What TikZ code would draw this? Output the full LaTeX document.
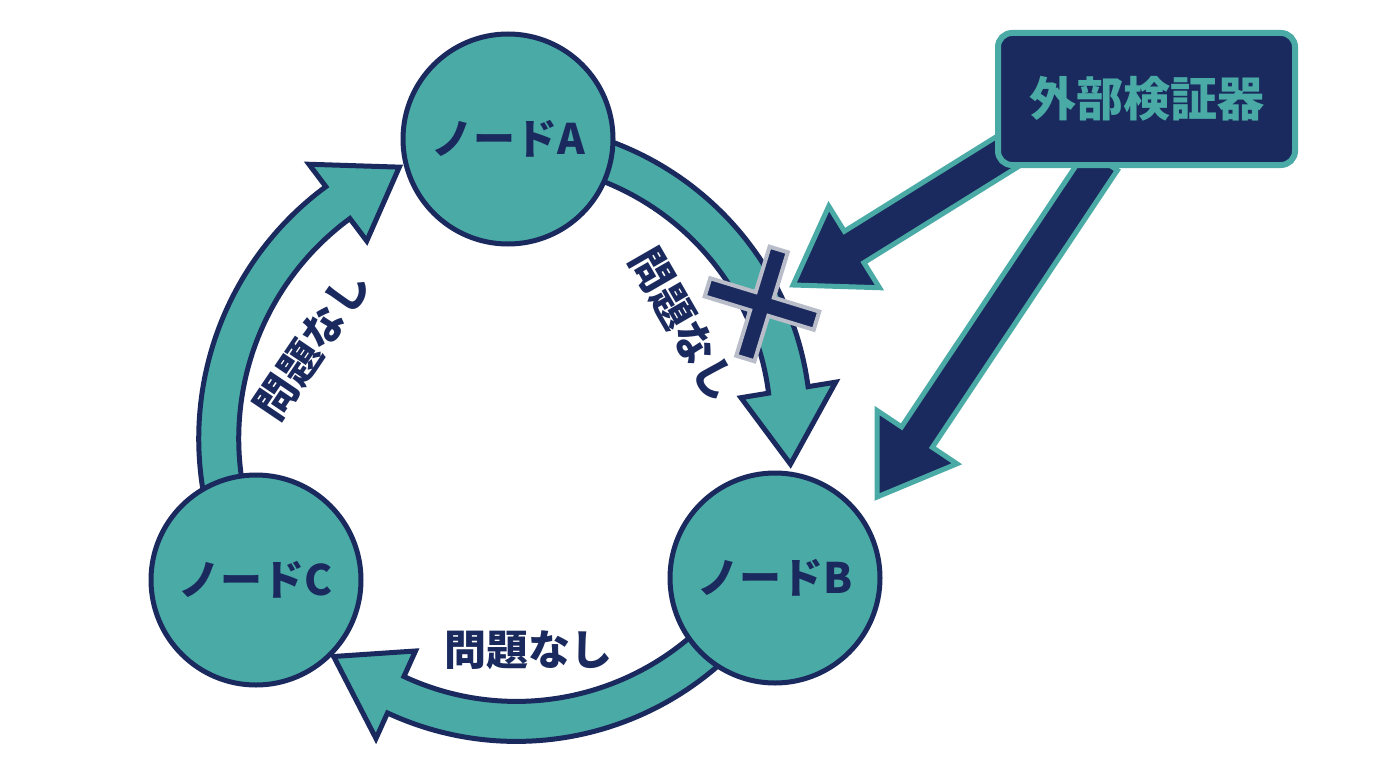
\documentclass[tikz,border=0pt]{standalone}
\usepackage{fontspec}
\newfontfamily\jp{Noto Sans CJK JP}
\usetikzlibrary{calc}
\definecolor{teal1}{HTML}{4AABA6}
\definecolor{navy}{HTML}{1B2A5E}
\definecolor{xgray}{HTML}{B9BDC9}
\tikzset{
 cyc/.style={fill=teal1, draw=navy, line width=5pt, line join=miter},
 vband/.style={fill=navy, draw=teal1, line width=5pt, line join=miter},
 nodecirc/.style={circle, fill=teal1, draw=navy, line width=5pt, minimum size=210pt, inner sep=0pt,
   font=\jp\bfseries\fontsize{42pt}{48pt}\selectfont, text=navy},
 lbl/.style={font=\jp\bfseries\fontsize{42pt}{48pt}\selectfont, text=navy, inner sep=0pt},
 vbox/.style={rectangle, rounded corners=14pt, fill=navy, draw=teal1, line width=6pt,
   minimum width=297pt, minimum height=132pt, inner sep=0pt,
   font=\jp\bfseries\fontsize{47pt}{52pt}\selectfont, text=teal1},
 xmark/.style={fill=navy, draw=xgray, line width=4pt, line join=miter}
}
% curved block arrow around O: tail angle, base angle, tip angle, r at tail, r at base
\newcommand\cyclearrow[5]{%
 \draw[cyc] plot[domain=#1:#2, samples=60] ({\x}:{#4+(#5-(#4))*(\x-(#1))/((#2)-(#1))+20})
  -- ({#2}:{#5+48}) -- ({#3}:{#5}) -- ({#2}:{#5-48})
  -- plot[domain=#2:#1, samples=60] ({\x}:{#4+(#5-(#4))*(\x-(#1))/((#2)-(#1))-20}) -- cycle;}
% straight block arrow: tail coordinate, tip coordinate
\newcommand\blockarrow[2]{%
 \coordinate (#1b) at ($(#2)!72pt!(#1)$);
 \draw[vband] ($(#1)!18.5pt!90:(#2)$) -- ($(#1b)!18.5pt!90:(#2)$) -- ($(#1b)!48pt!90:(#2)$) -- (#2)
  -- ($(#1b)!48pt!-90:(#2)$) -- ($(#1b)!18.5pt!-90:(#2)$) -- ($(#1)!18.5pt!-90:(#2)$) -- cycle;}
\begin{document}
\begin{tikzpicture}[x=1pt,y=-1pt]
\useasboundingbox (0,0) rectangle (1376,768);
\fill[white] (0,0) rectangle (1376,768);
\begin{scope}[shift={(513,435)}]
 \cyclearrow{-75}{-9.3}{6}{290}{279}
 \cyclearrow{45}{114.3}{129}{289}{285}
 \cyclearrow{168}{233}{247}{295}{291}
\end{scope}
\node[nodecirc] (A) at (508,139) {ノードA};
\node[nodecirc] (B) at (775,578) {ノードB};
\node[nodecirc] (C) at (256,580) {ノードC};
\coordinate (t1) at (1010,150);
\coordinate (p1) at (793,285);
\coordinate (t2) at (1102,160);
\coordinate (p2) at (877,497);
\blockarrow{t1}{p1}
\blockarrow{t2}{p2}
\node[vbox] (V) at (1146.5,99) {外部検証器};
\begin{scope}[shift={(762,304)}, rotate=-17]
 \draw[xmark] (-57,-9.5) -- (-9.5,-9.5) -- (-9.5,-57) -- (9.5,-57) -- (9.5,-9.5) -- (57,-9.5) -- (57,9.5) -- (9.5,9.5)
  -- (9.5,57) -- (-9.5,57) -- (-9.5,9.5) -- (-57,9.5) -- cycle;
\end{scope}
\node[lbl, rotate=-60] (l1) at (684,325) {問題なし};
\node[lbl] (l2) at (528,650) {問題なし};
\node[lbl, rotate=56] (l3) at (312,345) {問題なし};
\end{tikzpicture}
\end{document}
